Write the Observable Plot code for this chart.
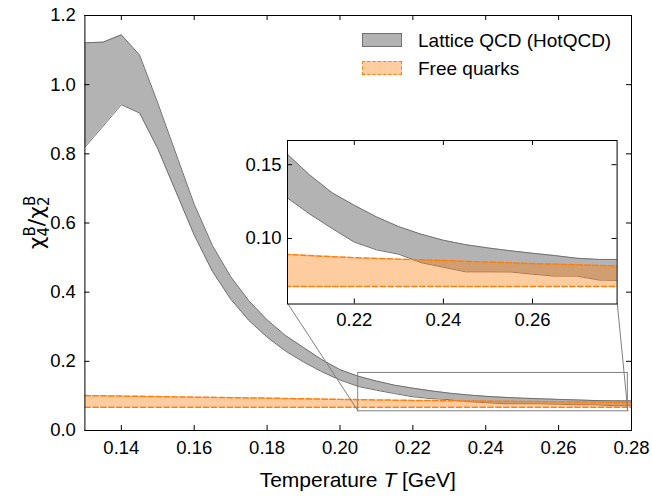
<!DOCTYPE html>
<html><head><meta charset="utf-8">
<script src="https://cdn.jsdelivr.net/npm/d3@7"></script>
<script src="https://cdn.jsdelivr.net/npm/@observablehq/plot@0.6"></script>
<style>
body{margin:0;background:#fff;}
#wrap{position:relative;width:652px;height:496px;font-family:"Liberation Sans",Arial,sans-serif;}
#wrap svg{position:absolute;}
.leg{position:absolute;font-size:19px;line-height:19px;color:#000;white-space:nowrap;}
.sw{position:absolute;box-sizing:border-box;}
</style></head><body><div id="wrap"></div>
<script>
// ---- data ----
const latticeT = [0.130,0.135,0.140,0.145,0.150,0.155,0.160,0.165,0.170,0.175,0.180,0.185,0.190,0.195,0.200,0.205,0.210,0.215,0.220,0.225,0.230,0.235,0.240,0.245,0.250,0.255,0.260,0.265,0.270,0.275,0.280];
const latticeUpper = [1.121,1.123,1.144,1.086,0.947,0.800,0.654,0.535,0.445,0.375,0.320,0.275,0.240,0.205,0.176,0.157,0.143,0.131,0.1225,0.1146,0.1080,0.1029,0.0988,0.0958,0.0936,0.0917,0.0900,0.0884,0.0866,0.0858,0.0858];
const latticeLower = [0.819,0.880,0.942,0.918,0.815,0.690,0.565,0.460,0.380,0.318,0.270,0.230,0.198,0.170,0.146,0.1274,0.1165,0.1068,0.0975,0.0923,0.0893,0.0836,0.0805,0.0774,0.0774,0.0773,0.0758,0.0745,0.0745,0.0718,0.0716];
const freeT = [0.13,0.14,0.15,0.16,0.17,0.18,0.19,0.20,0.21,0.22,0.23,0.24,0.25,0.26,0.27,0.28];
const freeUpper = [0.1010,0.0995,0.0980,0.0965,0.0950,0.0935,0.0918,0.0900,0.0884,0.0870,0.0860,0.0850,0.0840,0.0830,0.0822,0.0812];
const freeLower = [0.0675,0.0675,0.0675,0.0675,0.0675,0.0675,0.0675,0.0675,0.0675,0.0675,0.0675,0.0675,0.0675,0.0675,0.0675,0.0675];
const mainXDomain = [0.13, 0.28];
const mainYDomain = [0, 1.2];
const mainXTicks = [0.14,0.16,0.18,0.20,0.22,0.24,0.26,0.28];
const mainYTicks = [0.0,0.2,0.4,0.6,0.8,1.0,1.2];
const insetXDomain = [0.205, 0.279];
const insetYDomain = [0.0556, 0.1664];
const insetXTicks = [0.22,0.24,0.26];
const insetYTicks = [0.10,0.15];
const legendLabels = ["Lattice QCD (HotQCD)", "Free quarks"];

const lattice = latticeT.map((t,i)=>({T:t, lo:latticeLower[i], hi:latticeUpper[i]}));
const free = freeT.map((t,i)=>({T:t, lo:freeLower[i], hi:freeUpper[i]}));

// ---- styles / layout ----
const W=652, H=496, mL=84.4, mR=21, mT=15, mB=66;
const fw=W-mL-mR, fh=H-mT-mB;
const tickLen=5;
const grayFill="#808080", grayEdge="#707070", orange="#ff7f0e";
const tickFont=18.5;
const insetFrac={left:0.371, bottom:0.306, width:0.603, height:0.394};

function bandMarks(clip){
  return [
    Plot.areaY(lattice,{x:"T",y1:"lo",y2:"hi",fill:grayFill,fillOpacity:0.6,clip}),
    Plot.line(lattice,{x:"T",y:"hi",stroke:grayEdge,strokeWidth:1,clip}),
    Plot.line(lattice,{x:"T",y:"lo",stroke:grayEdge,strokeWidth:1,clip}),
    Plot.areaY(free,{x:"T",y1:"lo",y2:"hi",fill:orange,fillOpacity:0.4,clip}),
    Plot.line(free,{x:"T",y:"hi",stroke:orange,strokeWidth:1.5,strokeDasharray:"5.5,2.4",clip}),
    Plot.line(free,{x:"T",y:"lo",stroke:orange,strokeWidth:1.5,strokeDasharray:"5.5,2.4",clip})
  ];
}
function frameTicks(xt,yt,w,h){
  return [
    Plot.ruleX(xt,{x:d=>d,insetTop:h-tickLen,stroke:"black",strokeWidth:1}),
    Plot.ruleX(xt,{x:d=>d,insetBottom:h-tickLen,stroke:"black",strokeWidth:1}),
    Plot.ruleY(yt,{y:d=>d,insetRight:w-tickLen,stroke:"black",strokeWidth:1}),
    Plot.ruleY(yt,{y:d=>d,insetLeft:w-tickLen,stroke:"black",strokeWidth:1})
  ];
}

const xs = mainXDomain, ys = mainYDomain;
const xAt = f => xs[0] + f*(xs[1]-xs[0]);
const yAt = f => ys[0] + f*(ys[1]-ys[0]);
const connectors = [
  {x1:xAt(insetFrac.left), y1:yAt(insetFrac.bottom), x2:insetXDomain[0], y2:insetYDomain[0]},
  {x1:xAt(insetFrac.left+insetFrac.width), y1:yAt(insetFrac.bottom), x2:insetXDomain[1], y2:insetYDomain[0]}
];

const main = Plot.plot({
  width:W, height:H, marginLeft:mL, marginRight:mR, marginTop:mT, marginBottom:mB,
  style:{fontFamily:"'Liberation Sans', Arial, sans-serif", background:"white", overflow:"visible"},
  x:{domain:mainXDomain}, y:{domain:mainYDomain},
  marks:[
    ...bandMarks(true),
    Plot.rect([{x1:insetXDomain[0],x2:insetXDomain[1],y1:insetYDomain[0],y2:insetYDomain[1]}],{x1:"x1",x2:"x2",y1:"y1",y2:"y2",fill:"none",stroke:"#808080",strokeWidth:1}),
    Plot.link(connectors,{x1:"x1",y1:"y1",x2:"x2",y2:"y2",stroke:"#808080",strokeWidth:1}),
    Plot.frame({stroke:"black",strokeWidth:1}),
    ...frameTicks(mainXTicks,mainYTicks,fw,fh),
    Plot.axisX({ticks:mainXTicks,tickSize:0,tickPadding:10,tickFormat:d3.format(".2f"),fontSize:tickFont,label:null}),
    Plot.axisY({ticks:mainYTicks,tickSize:0,tickPadding:9,tickFormat:d3.format(".1f"),fontSize:tickFont,label:null})
  ]
});
main.style.left="0px"; main.style.top="0px";
const wrap=document.getElementById("wrap");
wrap.appendChild(main);

const svg=d3.select(main);
// x label
const xl=svg.append("text").attr("x",mL+fw/2).attr("y",487).attr("text-anchor","middle")
  .attr("font-size",21).attr("font-family","'Liberation Sans', Arial, sans-serif").attr("fill","black");
xl.append("tspan").text("Temperature ");
xl.append("tspan").attr("font-style","italic").text("T");
xl.append("tspan").text(" [GeV]");
// y label
const yl=svg.append("text").attr("transform",`translate(44,${mT+fh/2}) rotate(-90)`).attr("text-anchor","middle")
  .attr("font-size",22).attr("font-family","'DejaVu Sans', sans-serif").attr("fill","black");
yl.append("tspan").text("χ");
yl.append("tspan").attr("font-size",15).attr("dy",5).text("4");
yl.append("tspan").attr("font-size",15).attr("dx",-9.5).attr("dy",-14).text("B");
yl.append("tspan").attr("dy",9).text("/");
yl.append("tspan").text("χ");
yl.append("tspan").attr("font-size",15).attr("dy",5).text("2");
yl.append("tspan").attr("font-size",15).attr("dx",-9.5).attr("dy",-14).text("B");

// ---- inset ----
const iL=mL+insetFrac.left*fw, iR=mL+(insetFrac.left+insetFrac.width)*fw;
const iB=mT+fh-insetFrac.bottom*fh, iT=mT+fh-(insetFrac.bottom+insetFrac.height)*fh;
const imL=60, imR=14, imT=10, imB=36;
const iw=iR-iL, ih=iB-iT;
const inset = Plot.plot({
  width:iw+imL+imR, height:ih+imT+imB, marginLeft:imL, marginRight:imR, marginTop:imT, marginBottom:imB,
  style:{fontFamily:"'Liberation Sans', Arial, sans-serif", background:"transparent", overflow:"visible"},
  x:{domain:insetXDomain}, y:{domain:insetYDomain},
  marks:[
    Plot.frame({fill:"white"}),
    ...bandMarks(true),
    Plot.frame({stroke:"black",strokeWidth:1}),
    ...frameTicks(insetXTicks,insetYTicks,iw,ih),
    Plot.axisX({ticks:insetXTicks,tickSize:0,tickPadding:9,tickFormat:d3.format(".2f"),fontSize:tickFont,label:null}),
    Plot.axisY({ticks:insetYTicks,tickSize:0,tickPadding:6,tickFormat:d3.format(".2f"),fontSize:tickFont,label:null})
  ]
});
inset.style.left=(iL-imL)+"px"; inset.style.top=(iT-imT)+"px";
wrap.appendChild(inset);

// ---- legend ----
const swatches=[
  {top:33, bg:"rgba(128,128,128,0.6)", border:"1px solid "+grayEdge},
  {top:60.5, bg:"rgba(255,127,14,0.4)", border:"1.5px dashed "+orange}
];
legendLabels.forEach((lab,i)=>{
  const s=document.createElement("div"); s.className="sw";
  s.style.left="362px"; s.style.top=swatches[i].top+"px"; s.style.width="40px"; s.style.height="14px";
  s.style.background=swatches[i].bg; s.style.border=swatches[i].border;
  wrap.appendChild(s);
  const t=document.createElement("div"); t.className="leg";
  t.style.left="418px"; t.style.top=(swatches[i].top-2)+"px"; t.textContent=lab;
  wrap.appendChild(t);
});
</script></body></html>
